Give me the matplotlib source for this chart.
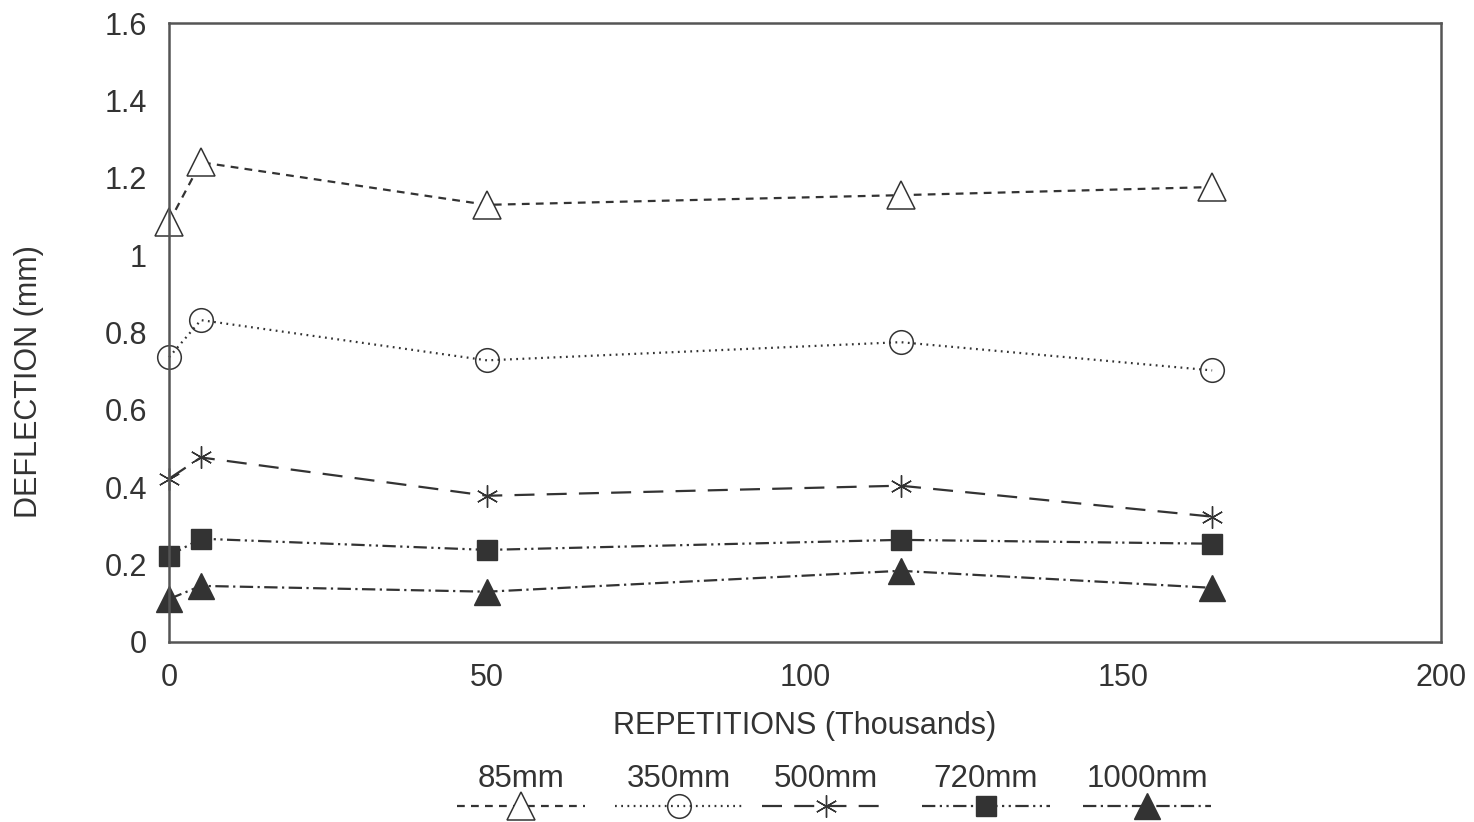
import matplotlib
matplotlib.use("Agg")
import matplotlib.pyplot as plt
from matplotlib.lines import Line2D

plt.rcParams['font.family'] = ['Liberation Sans', 'DejaVu Sans']

# Data
repetitions = [0, 5, 50, 115, 164]  # thousands
series_names = ["85mm", "350mm", "500mm", "720mm", "1000mm"]
d85 = [1.085, 1.24, 1.13, 1.155, 1.176]
d350 = [0.736, 0.832, 0.728, 0.775, 0.702]
d500 = [0.422, 0.477, 0.378, 0.404, 0.324]
d720 = [0.223, 0.267, 0.238, 0.264, 0.254]
d1000 = [0.111, 0.145, 0.130, 0.184, 0.140]
series_values = [d85, d350, d500, d720, d1000]
x_ticks = [0, 50, 100, 150, 200]
y_ticks = [0, 0.2, 0.4, 0.6, 0.8, 1.0, 1.2, 1.4, 1.6]
y_tick_labels = ["0", "0.2", "0.4", "0.6", "0.8", "1", "1.2", "1.4", "1.6"]

ink = "#333333"
styles = [
    dict(marker="^", ms=20, mfc="white", mec=ink, mew=1.1, dashes=(3.5, 2.8)),
    dict(marker="o", ms=17, mfc="none", mec=ink, mew=1.1, dashes=(0.8, 2.0)),
    dict(marker=(6, 2, 0), ms=16, mfc=ink, mec=ink, mew=1.0, dashes=(9, 5.5)),
    dict(marker="s", ms=14, mfc=ink, mec=ink, mew=1.0, dashes=(6, 2, 1, 2, 1, 2)),
    dict(marker="^", ms=19, mfc=ink, mec=ink, mew=1.0, dashes=(6, 2, 1, 2)),
]

fig = plt.figure(figsize=(14.74, 8.22), dpi=100)
ax = fig.add_axes([0.1147, 0.219, 0.863, 0.753])

for vals, st in zip(series_values, styles):
    ax.plot(repetitions, vals, color=ink, lw=1.6, clip_on=False, **st)

ax.set_xlim(0, 200)
ax.set_ylim(0, 1.6)
ax.set_xticks(x_ticks)
ax.set_yticks(y_ticks)
ax.set_yticklabels(y_tick_labels)
ax.tick_params(length=0, labelsize=22, colors=ink)
ax.tick_params(axis="y", pad=16)
ax.tick_params(axis="x", pad=15)
for sp in ax.spines.values():
    sp.set_color("#555555")
    sp.set_linewidth(1.8)

ax.set_xlabel("REPETITIONS (Thousands)", fontsize=22, color=ink, labelpad=13)
ax.set_ylabel("DEFLECTION (mm)", fontsize=22, color=ink)
ax.yaxis.set_label_coords(-0.098, 0.42)

# Legend: labels above line samples
leg_centers = [521, 679, 826, 986, 1147]
leg_half = 64
for name, cx, st in zip(series_names, leg_centers, styles):
    fx = cx / 1474
    fig.text(fx, 1 - 779 / 822, name, fontsize=22.5, color=ink, ha="center", va="center")
    ly = 1 - 806 / 822
    ln = Line2D([fx - leg_half / 1474, fx + leg_half / 1474], [ly, ly], transform=fig.transFigure,
                color=ink, lw=1.6, dashes=st["dashes"])
    fig.add_artist(ln)
    mk = Line2D([fx], [ly], transform=fig.transFigure, linestyle="none",
                marker=st["marker"], ms=st["ms"], mfc=st["mfc"], mec=st["mec"], mew=st["mew"])
    fig.add_artist(mk)

fig.savefig("out.png", dpi=100, facecolor="white")
